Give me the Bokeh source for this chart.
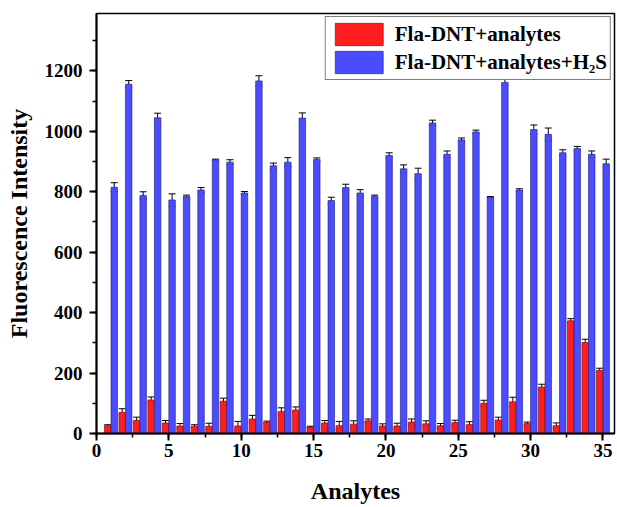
from bokeh.plotting import figure
from bokeh.models import (ColumnDataSource, Range1d, SingleIntervalTicker, Whisker,
                          TeeHead, Legend, LegendItem)
from bokeh.embed import file_html
from bokeh.resources import INLINE

analytes = list(range(1, 36))
red = [26, 70, 44, 111, 35, 25, 24, 24, 107, 25, 48, 37, 73, 78, 21, 35, 26, 31, 42, 25,
       25, 38, 32, 26, 36, 30, 100, 45, 105, 33, 154, 26, 373, 301, 209]
red_err = [3, 12, 10, 10, 8, 8, 5, 10, 10, 15, 12, 4, 12, 10, 3, 8, 14, 11, 6, 7,
           9, 10, 10, 7, 8, 9, 10, 9, 15, 5, 9, 9, 7, 11, 7]
blue = [815, 1156, 788, 1045, 773, 784, 806, 906, 898, 796, 1167, 886, 898, 1044, 907, 771,
        814, 796, 785, 920, 876, 860, 1028, 924, 972, 998, 782, 1162, 806, 1006, 990, 929,
        943, 924, 893]
blue_err = [15, 12, 12, 15, 20, 5, 8, 2, 8, 5, 17, 9, 15, 17, 5, 11, 11, 11, 4, 9,
            13, 18, 9, 11, 6, 6, 2, 10, 4, 15, 21, 10, 7, 11, 15]
series_names = ["Fla-DNT+analytes", "Fla-DNT+analytes+H\u2082S"]

OFF = 0.225
BW = 0.45
FONT = "Liberation Serif"

src_r = ColumnDataSource(dict(
    x=[a - OFF for a in analytes], top=red,
    lo=[v - e for v, e in zip(red, red_err)], hi=[v + e for v, e in zip(red, red_err)]))
src_b = ColumnDataSource(dict(
    x=[a + OFF for a in analytes], top=blue,
    lo=[v - e for v, e in zip(blue, blue_err)], hi=[v + e for v, e in zip(blue, blue_err)]))

p = figure(width=617, height=507, output_backend="svg", toolbar_location=None,
           x_range=Range1d(0, 35.8), y_range=Range1d(0, 1390),
           min_border_left=96, min_border_right=3, min_border_top=13, min_border_bottom=74)
p.background_fill_color = "white"
p.border_fill_color = "white"
p.outline_line_color = "black"
p.outline_line_width = 1.5
p.xgrid.visible = False
p.ygrid.visible = False

rr = p.vbar(x="x", top="top", width=BW, source=src_r, fill_color="#FF1E1E",
            line_color="#7A0000", line_width=0.6)
rb = p.vbar(x="x", top="top", width=BW, source=src_b, fill_color="#4B4BFF",
            line_color="#1E1E70", line_width=0.6)

for s in (src_r, src_b):
    w = Whisker(source=s, base="x", lower="lo", upper="hi", line_color="black", line_width=1,
                upper_head=TeeHead(size=7, line_color="black", line_width=1),
                lower_head=TeeHead(size=7, line_color="black", line_width=1))
    p.add_layout(w)

p.xaxis.ticker = SingleIntervalTicker(interval=5, num_minor_ticks=2)
p.yaxis.ticker = SingleIntervalTicker(interval=200, num_minor_ticks=2)
for ax in (p.xaxis, p.yaxis):
    ax.axis_line_width = 2
    ax.axis_line_color = "black"
    ax.major_tick_line_width = 2
    ax.minor_tick_line_width = 1.5
    ax.major_tick_out = 7
    ax.major_tick_in = 0
    ax.minor_tick_out = 4
    ax.minor_tick_in = 0
    ax.major_label_text_font = FONT
    ax.major_label_text_font_style = "bold"
    ax.major_label_text_font_size = "19px"
    ax.major_label_text_color = "black"
    ax.axis_label_text_font = FONT
    ax.axis_label_text_font_style = "bold"
    ax.axis_label_text_font_size = "24px"
    ax.axis_label_text_color = "black"

p.xaxis.axis_label = "Analytes"
p.yaxis.axis_label = "Fluorescence Intensity"
p.xaxis.major_label_standoff = 3
p.yaxis.major_label_standoff = 7
p.xaxis.axis_label_standoff = 18
p.yaxis.axis_label_standoff = 10

legend = Legend(items=[LegendItem(label=series_names[0], renderers=[rr]),
                       LegendItem(label=series_names[1], renderers=[rb])],
                location="top_right", margin=3, padding=3, spacing=0,
                glyph_width=60, glyph_height=28, label_standoff=6,
                label_text_font=FONT, label_text_font_style="bold",
                label_text_font_size="21px", label_text_color="black",
                border_line_color="black", border_line_width=1,
                background_fill_color="white", background_fill_alpha=1)
p.add_layout(legend)

open("out.html", "w").write(file_html(p, INLINE))
